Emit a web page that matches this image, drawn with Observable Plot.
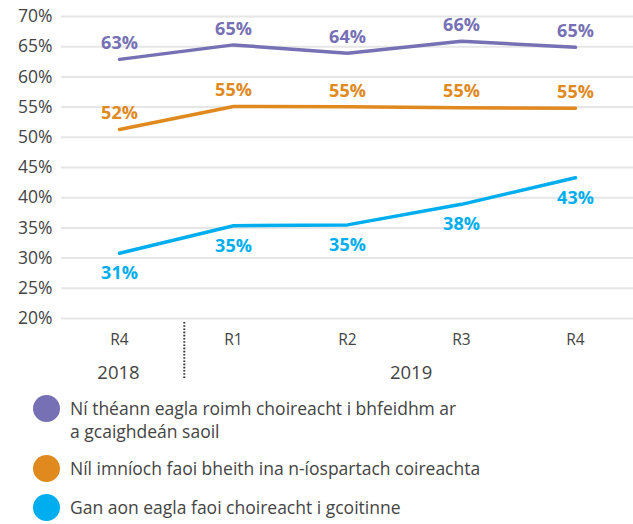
<!DOCTYPE html>
<html>
<head>
<meta charset="utf-8">
<script src="https://cdn.jsdelivr.net/npm/d3@7"></script>
<script src="https://cdn.jsdelivr.net/npm/@observablehq/plot@0.6"></script>
<style>
  html, body { margin: 0; padding: 0; background: #fff; }
  body { width: 633px; font-family: "Open Sans", sans-serif; }
  #legend { margin: 0; padding: 7px 0 0 33px; color: #444; font-size: 17.5px; line-height: 23px; }
  .item { display: flex; align-items: flex-start; margin-bottom: 14px; }
  .sw { width: 27px; height: 27px; border-radius: 50%; flex: none; margin-right: 10px; margin-top: -2px; }
</style>
</head>
<body>
<div id="chart"></div>
<div id="legend"></div>
<script>
const periods = ["R4", "R1", "R2", "R3", "R4"];
const years = ["2018", "2019", "2019", "2019", "2019"];
const seriesNames = [
  "Ní théann eagla roimh choireacht i bhfeidhm ar\na gcaighdeán saoil",
  "Níl imníoch faoi bheith ina n-íospartach coireachta",
  "Gan aon eagla faoi choireacht i gcoitinne"
];
const seriesColors = ["#7670b4", "#e0891e", "#00aeef"];
const purpleValues = [62.9, 65.3, 63.9, 65.9, 64.9];
const orangeValues = [51.3, 55.1, 55.05, 54.9, 54.8];
const blueValues = [30.8, 35.35, 35.5, 38.9, 43.3];
const purpleLabels = [63, 65, 64, 66, 65];
const orangeLabels = [52, 55, 55, 55, 55];
const blueLabels = [31, 35, 35, 38, 43];
const yTicks = [20, 25, 30, 35, 40, 45, 50, 55, 60, 65, 70];

const keys = periods.map((p, i) => years[i] + "-" + p);
const allValues = [purpleValues, orangeValues, blueValues];
const allLabels = [purpleLabels, orangeLabels, blueLabels];
const rows = [];
allValues.forEach((vals, s) => vals.forEach((v, i) => rows.push({
  key: keys[i], series: seriesNames[s], value: v, label: allLabels[s][i] + "%", s
})));

// year groups
const yearGroups = Array.from(d3.group(keys.map((k, i) => ({k, y: years[i], i})), d => d.y),
  ([y, arr]) => ({year: y, keys: arr.map(d => d.k), first: arr[0].i, last: arr[arr.length - 1].i}));
const sepKeys = yearGroups.slice(1).map(g => g.keys[0]);

const step = (633 - 61) / keys.length;

const yearMarks = yearGroups.map((g, gi) => Plot.text([g], {
  x: d => d.keys[0], text: "year", frameAnchor: "bottom", lineAnchor: "middle",
  dy: 55, dx: gi === 0 ? -1 : ((g.last - g.first) / 2) * step + 6,
  fontSize: 18.5, fill: "#444"
}));

const plot = Plot.plot({
  width: 633,
  height: 390,
  marginLeft: 61,
  marginRight: 0,
  marginTop: 16,
  marginBottom: 72,
  style: {fontFamily: "'Open Sans', sans-serif", background: "transparent", overflow: "visible"},
  x: {type: "point", domain: keys, padding: 0.5, axis: null},
  y: {domain: [20, 70], axis: null},
  color: {domain: seriesNames, range: seriesColors},
  marks: [
    Plot.gridY(yTicks, {stroke: "#e6e6e6", strokeOpacity: 1, strokeWidth: 2}),
    Plot.axisY(yTicks, {tickSize: 0, tickPadding: 9, tickFormat: d => d + "%", fontSize: 17.5, fill: "#444", label: null}),
    Plot.axisX(keys, {tickSize: 0, tickPadding: 15, tickFormat: (d, i) => periods[i], fontSize: 15.5, fill: "#444", label: null}),
    ...yearMarks,
    Plot.ruleX(sepKeys, {dx: -step / 2 + 8, insetTop: 306, insetBottom: -61, stroke: "#333", strokeWidth: 2, strokeDasharray: "1.6,1.6"}),
    Plot.line(rows, {x: "key", y: "value", z: "series", stroke: "series", strokeWidth: 3.5, curve: "linear"}),
    Plot.text(rows.filter(d => d.s < 2), {x: "key", y: "value", text: "label", fill: "series", dy: -16, fontSize: 18, fontWeight: "bold"}),
    Plot.text(rows.filter(d => d.s === 2), {x: "key", y: "value", text: "label", fill: "series", dy: 20, fontSize: 18, fontWeight: "bold"})
  ]
});
document.getElementById("chart").appendChild(plot);

const legend = document.getElementById("legend");
seriesNames.forEach((name, i) => {
  const item = document.createElement("div");
  item.className = "item";
  const sw = document.createElement("span");
  sw.className = "sw";
  sw.style.background = seriesColors[i];
  const txt = document.createElement("span");
  txt.innerHTML = name.split("\n").join("<br>");
  item.appendChild(sw);
  item.appendChild(txt);
  legend.appendChild(item);
});
</script>
</body>
</html>
